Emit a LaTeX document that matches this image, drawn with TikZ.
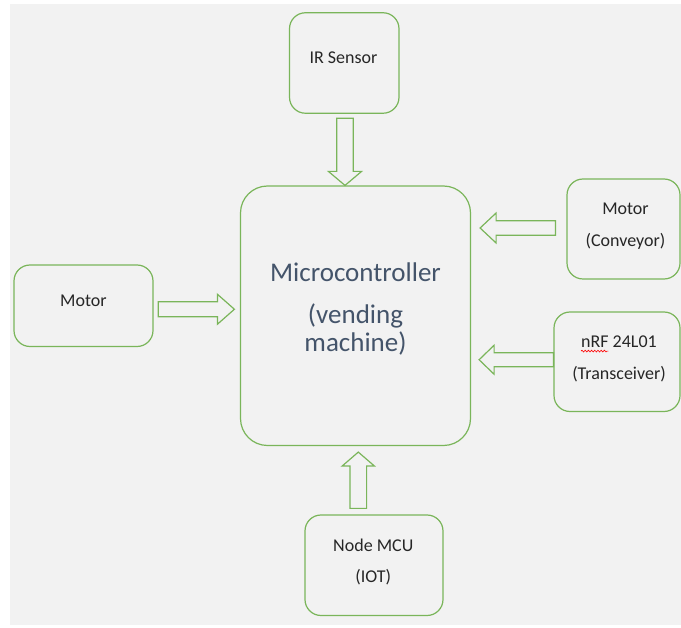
\documentclass[tikz,border=0pt]{standalone}
\usepackage{fontspec}
\setmainfont{Carlito}
\usetikzlibrary{calc,decorations.pathmorphing}
\definecolor{bg}{HTML}{F2F2F2}
\definecolor{grn}{HTML}{7AB55A}
\definecolor{txt}{HTML}{262626}
\definecolor{mct}{HTML}{44546A}
\begin{document}
\begin{tikzpicture}[x=1pt,y=-1pt,
  box/.style={draw=grn,line width=1.2pt,rounded corners=16pt,fill=bg,inner sep=0pt},
  bigbox/.style={box,rounded corners=27pt},
  barrow/.style={draw=grn,line width=1.2pt,fill=bg,line join=miter},
  lbl/.style={font=\fontsize{18}{20}\selectfont,text=txt,anchor=base,inner sep=0pt},
  mlbl/.style={font=\fontsize{27}{30}\selectfont,text=mct,anchor=base,inner sep=0pt}]
\useasboundingbox (0,0) rectangle (681,628);
\fill[bg] (10,4) rectangle (681,625);

% boxes
\node[box,minimum width=109.5pt,minimum height=100.5pt] (ir) at (344.25,63) {};
\node[bigbox,minimum width=230pt,minimum height=259.5pt] (mc) at (355.5,315.75) {};
\node[box,minimum width=113pt,minimum height=100pt] (conv) at (623.5,229) {};
\node[box,minimum width=126pt,minimum height=99.5pt] (nrf) at (617,361.75) {};
\node[box,minimum width=139pt,minimum height=81.5pt] (motor) at (83.5,305.75) {};
\node[box,minimum width=138pt,minimum height=100.5pt] (nodemcu) at (374,565.25) {};

% texts
\node[lbl] (irt) at (343.5,63.3) {IR Sensor};
\node[lbl] (motort) at (83.5,306.7) {Motor};
\node[lbl] (convt1) at (625.5,215) {Motor};
\node[lbl] (convt2) at (625.5,246.5) {(Conveyor)};
\node[lbl] (nrft1) at (619,347.3) {nRF 24L01};
\node[lbl] (nrft2) at (619,379.5) {(Transceiver)};
\node[lbl] (nodet1) at (373.3,551.5) {Node MCU};
\node[lbl] (nodet2) at (373.3,582.5) {(IOT)};
\node[mlbl] (mct1) at (355.5,281.7) {Microcontroller};
\node[mlbl] (mct2) at (355.5,323.5) {(vending};
\node[mlbl] (mct3) at (355.5,352) {machine)};
\draw[red,line width=0.6pt,decorate,decoration={snake,amplitude=0.9pt,segment length=3.2pt}]
  ($(nrft1.base west)+(0,3.8)$) -- ($(nrft1.base west)+(27.5,3.8)$);

% block arrows
% IR -> MC (down)
\coordinate (a1s) at ($(ir.south)+(0.75,4.5)$);
\coordinate (a1t) at (a1s |- mc.north);
\draw[barrow] ($(a1s)+(-8.3,0)$) -- ($(a1s)+(8.3,0)$) -- ($(a1t)+(8.3,-14)$) -- ($(a1t)+(16.6,-14)$)
  -- (a1t) -- ($(a1t)+(-16.6,-14)$) -- ($(a1t)+(-8.3,-14)$) -- cycle;
% Motor -> MC (right)
\coordinate (a2s) at ($(motor.east)+(4.7,3.5)$);
\coordinate (a2t) at ($(mc.west |- a2s)+(-5.5,0)$);
\draw[barrow] ($(a2s)+(0,-7.5)$) -- ($(a2s)+(0,7.5)$) -- ($(a2t)+(-17,7.5)$) -- ($(a2t)+(-17,15)$)
  -- (a2t) -- ($(a2t)+(-17,-15)$) -- ($(a2t)+(-17,-7.5)$) -- cycle;
% Conveyor -> MC (left)
\coordinate (a3s) at ($(conv.west)+(-11,-1)$);
\coordinate (a3t) at ($(mc.east |- a3s)+(9,0)$);
\draw[barrow] ($(a3s)+(0,-7.2)$) -- ($(a3s)+(0,7.2)$) -- ($(a3t)+(16,7.2)$) -- ($(a3t)+(16,15)$)
  -- (a3t) -- ($(a3t)+(16,-15)$) -- ($(a3t)+(16,-7.2)$) -- cycle;
% nRF -> MC (left)
\coordinate (a4s) at ($(nrf.west)+(0,-2)$);
\coordinate (a4t) at ($(mc.east |- a4s)+(8,0)$);
\draw[barrow] ($(a4s)+(0,-7)$) -- ($(a4s)+(0,7)$) -- ($(a4t)+(15,7)$) -- ($(a4t)+(15,14.5)$)
  -- (a4t) -- ($(a4t)+(15,-14.5)$) -- ($(a4t)+(15,-7)$) -- cycle;
% NodeMCU -> MC (up)
\coordinate (a5s) at ($(nodemcu.north)+(-15.7,-6)$);
\coordinate (a5t) at ($(mc.south -| a5s)+(0,6)$);
\draw[barrow] ($(a5s)+(-8.3,0)$) -- ($(a5s)+(8.3,0)$) -- ($(a5t)+(8.3,14)$) -- ($(a5t)+(16.2,14)$)
  -- (a5t) -- ($(a5t)+(-16.2,14)$) -- ($(a5t)+(-8.3,14)$) -- cycle;
\end{tikzpicture}
\end{document}
